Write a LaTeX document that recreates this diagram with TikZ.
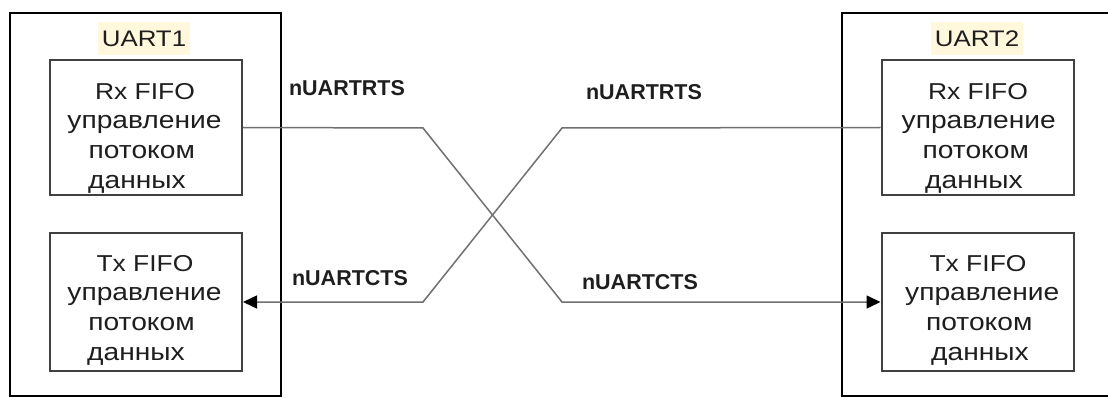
\documentclass[tikz,border=0pt]{standalone}
\usepackage{fontspec}
\setmainfont{Liberation Sans}
\newfontfamily\widefont{Liberation Sans}[FakeStretch=1.15]
\usetikzlibrary{arrows.meta}
\definecolor{txt}{HTML}{1E1E1E}
\definecolor{lbl}{HTML}{FFF8DC}
\definecolor{wirec}{HTML}{707070}
\definecolor{innerc}{HTML}{404040}
\newcommand{\shiftedline}[2]{\hspace*{#1}#2\hspace*{-#1}}
\newcommand{\fifolines}[5]{{\fontsize{23}{26}\selectfont\shiftedline{#1}{#5}}\\[-1pt]
 \shiftedline{#2}{управление}\\ \shiftedline{#3}{потоком}\\ \shiftedline{#4}{данных}}
\begin{document}
\begin{tikzpicture}[x=1pt,y=-1pt,
 outerbox/.style={draw=black, line width=2.4pt, rectangle, inner sep=0pt, minimum height=383pt},
 fifobox/.style={draw=innerc, line width=2pt, minimum width=192pt, inner sep=0pt},
 fifotext/.style={text=txt, align=center, font=\widefont\fontsize{24.5}{30}\selectfont},
 uartlbl/.style={fill=lbl, text=txt, font=\widefont\fontsize{22.5}{26}\selectfont, minimum width=92pt, minimum height=33pt, inner sep=0pt},
 sig/.style={font=\bfseries\fontsize{21.5}{24}\selectfont, text=txt},
 wire/.style={draw=wirec, line width=1.5pt},
 arr/.style={-{Triangle[length=14pt,width=13pt,color=black]}}
]
\useasboundingbox (0,0) rectangle (1108,398);
\node[outerbox, minimum width=271pt] (u1) at (145.5,204.5) {};
\node[outerbox, minimum width=300pt] (u2) at (992,204.5) {};
\node[uartlbl] (l1) at (144,38.5) {UART1};
\node[uartlbl] (l2) at (977,38.5) {UART2};
\node[fifobox, minimum height=135pt] (rx1) at (146,127.5) {};
\node[fifobox, minimum height=138pt] (tx1) at (146,302) {};
\node[fifobox, minimum height=135pt] (rx2) at (977.5,127.5) {};
\node[fifobox, minimum height=138pt] (tx2) at (977.5,302) {};
\node[fifotext] (rx1t) at (146,138) {\fifolines{-1pt}{-3pt}{-8.5pt}{-9pt}{Rx FIFO}};
\node[fifotext] (tx1t) at (146,310) {\fifolines{-1pt}{-3pt}{-9pt}{-10pt}{Tx FIFO}};
\node[fifotext] (rx2t) at (977.5,138) {\fifolines{0.5pt}{2.5pt}{-3.5pt}{-3.5pt}{Rx FIFO}};
\node[fifotext] (tx2t) at (977.5,310) {\fifolines{0.5pt}{9.5pt}{3.5pt}{2.5pt}{Tx FIFO}};
\node[sig] (s1) at (347,88) {nUARTRTS};
\node[sig] (s2) at (644,92) {nUARTRTS};
\node[sig] (s3) at (350,278) {nUARTCTS};
\node[sig] (s4) at (640,282) {nUARTCTS};
\coordinate (a1) at (423,128);
\coordinate (a2) at (562,302);
\coordinate (b1) at (562,128);
\coordinate (b2) at (423,302);
\draw[wire, arr] (rx1.east) -- (a1) -- (a2) -- (tx2.west);
\draw[wire, arr] (rx2.west) -- (b1) -- (b2) -- (tx1.east);
\end{tikzpicture}
\end{document}
